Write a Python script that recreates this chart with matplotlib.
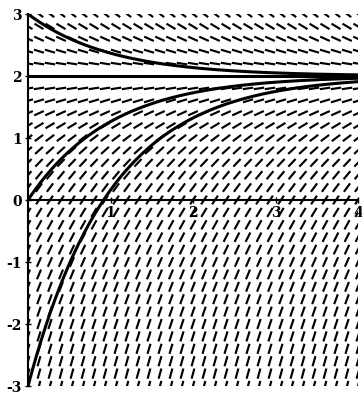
import numpy as np
import matplotlib
matplotlib.use("Agg")
import matplotlib.pyplot as plt

plt.rcParams["axes.unicode_minus"] = False

# dy/dt = 2 - y, direction field and a few solutions
t_grid = np.linspace(0, 4, 31)
y_grid = np.linspace(-3, 3, 31)
initial_values = [3, 2, 0, -3]
x_ticks = [1, 2, 3, 4]
y_ticks = [-3, -2, -1, 0, 1, 2, 3]

def slope(t, y):
    return 2 - y

fig = plt.figure(figsize=(3.62, 3.95), dpi=100)
ax = fig.add_axes([28 / 362, 1 - 386 / 395, 330 / 362, 372 / 395])
ax.set_xlim(0, 4)
ax.set_ylim(-3, 3)

# pixels per unit, so the segments are all the same length on screen
px = 330 / 4
py = 372 / 6
T, Y = np.meshgrid(t_grid, y_grid)
U = px * np.ones_like(T)
V = py * slope(T, Y)
n = np.hypot(U, V)
U, V = U / n, V / n
ax.quiver(T, Y, U, V, angles="uv", pivot="middle", scale_units="dots", scale=1 / 10.5,
          headwidth=0, headlength=0, headaxislength=0, width=0.0065, color="black")

t = np.linspace(0, 4, 300)
for y0 in initial_values:
    ax.plot(t, 2 + (y0 - 2) * np.exp(-t), color="black", lw=2.2)

ax.spines["top"].set_visible(False)
ax.spines["right"].set_visible(False)
ax.spines["bottom"].set_position(("data", 0))
ax.spines["left"].set_linewidth(1.5)
ax.spines["bottom"].set_linewidth(1.5)
ax.set_xticks(x_ticks)
ax.set_yticks(y_ticks)
ax.tick_params(direction="inout", length=5, width=1, labelsize=10, pad=2)
for lab in ax.get_xticklabels() + ax.get_yticklabels():
    lab.set_fontfamily("DejaVu Serif")
    lab.set_fontweight("bold")

fig.savefig("out.png", dpi=100)
